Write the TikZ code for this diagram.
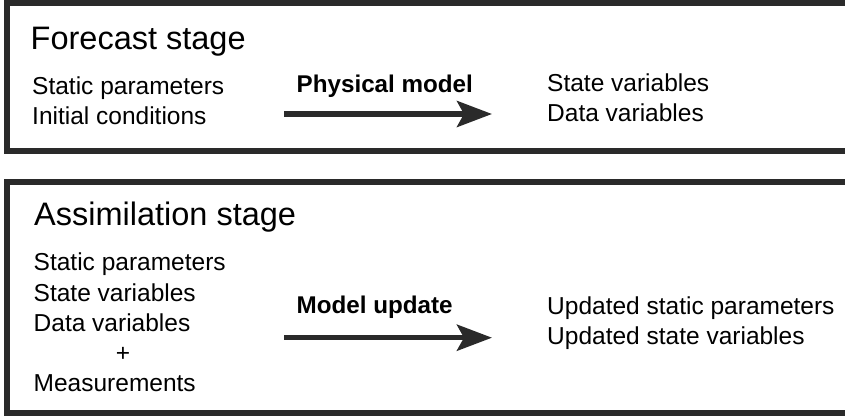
\documentclass[tikz,border=0pt]{standalone}
\usepackage{fontspec}
\setmainfont{Liberation Sans}
\usetikzlibrary{arrows.meta}
\definecolor{frame}{HTML}{2A2A2A}
\tikzset{
  framebox/.style={draw=frame, line width=5.5pt},
  title/.style={anchor=base west, inner sep=0pt, font=\fontsize{32.5}{37}\selectfont},
  item/.style={anchor=base west, inner sep=0pt, font=\fontsize{24.5}{29}\selectfont},
  proc/.style={anchor=base west, inner sep=0pt, font=\fontsize{24.2}{28}\selectfont\bfseries},
  bigarrow/.style={draw=frame, line width=5.5pt, -{Stealth[length=35pt,width=26pt,inset=7pt]}}
}
\begin{document}
\begin{tikzpicture}[x=1pt,y=-1pt]
\useasboundingbox (0,0) rectangle (845,415);
\clip (0,0) rectangle (845,415);
% frames
\draw[framebox] (870,2.75) -- (6.75,2.75) -- (6.75,151) -- (870,151);
\draw[framebox] (870,181.75) -- (6.75,181.75) -- (6.75,413) -- (870,413);
% forecast stage
\node[title] (ftitle) at (30.5,49.5) {Forecast stage};
\node[item] (fin1) at (32,94.3) {Static parameters};
\node[item] (fin2) at (32,124) {Initial conditions};
\node[proc] (fproc) at (296.5,92.3) {Physical model};
\node[item] (fout1) at (547,91.7) {State variables};
\node[item] (fout2) at (547,121.7) {Data variables};
\coordinate (fa) at (284,114);
\coordinate (fb) at (492,114);
\draw[bigarrow] (fa) -- (fb);
% assimilation stage
\node[title] (atitle) at (34,225) {Assimilation stage};
\node[item] (ain1) at (33.5,270) {Static parameters};
\node[item] (ain2) at (33.5,301.7) {State variables};
\node[item] (ain3) at (33.5,331.7) {Data variables};
\node[item, anchor=base] (aplus) at (123,361.7) {+};
\node[item] (ain4) at (33.5,391.7) {Measurements};
\node[proc] (aproc) at (296.5,313) {Model update};
\node[item] (aout1) at (547,314) {Updated static parameters};
\node[item] (aout2) at (547,344) {Updated state variables};
\coordinate (aa) at (284,337.7);
\coordinate (ab) at (492,337.7);
\draw[bigarrow] (aa) -- (ab);
\end{tikzpicture}
\end{document}
